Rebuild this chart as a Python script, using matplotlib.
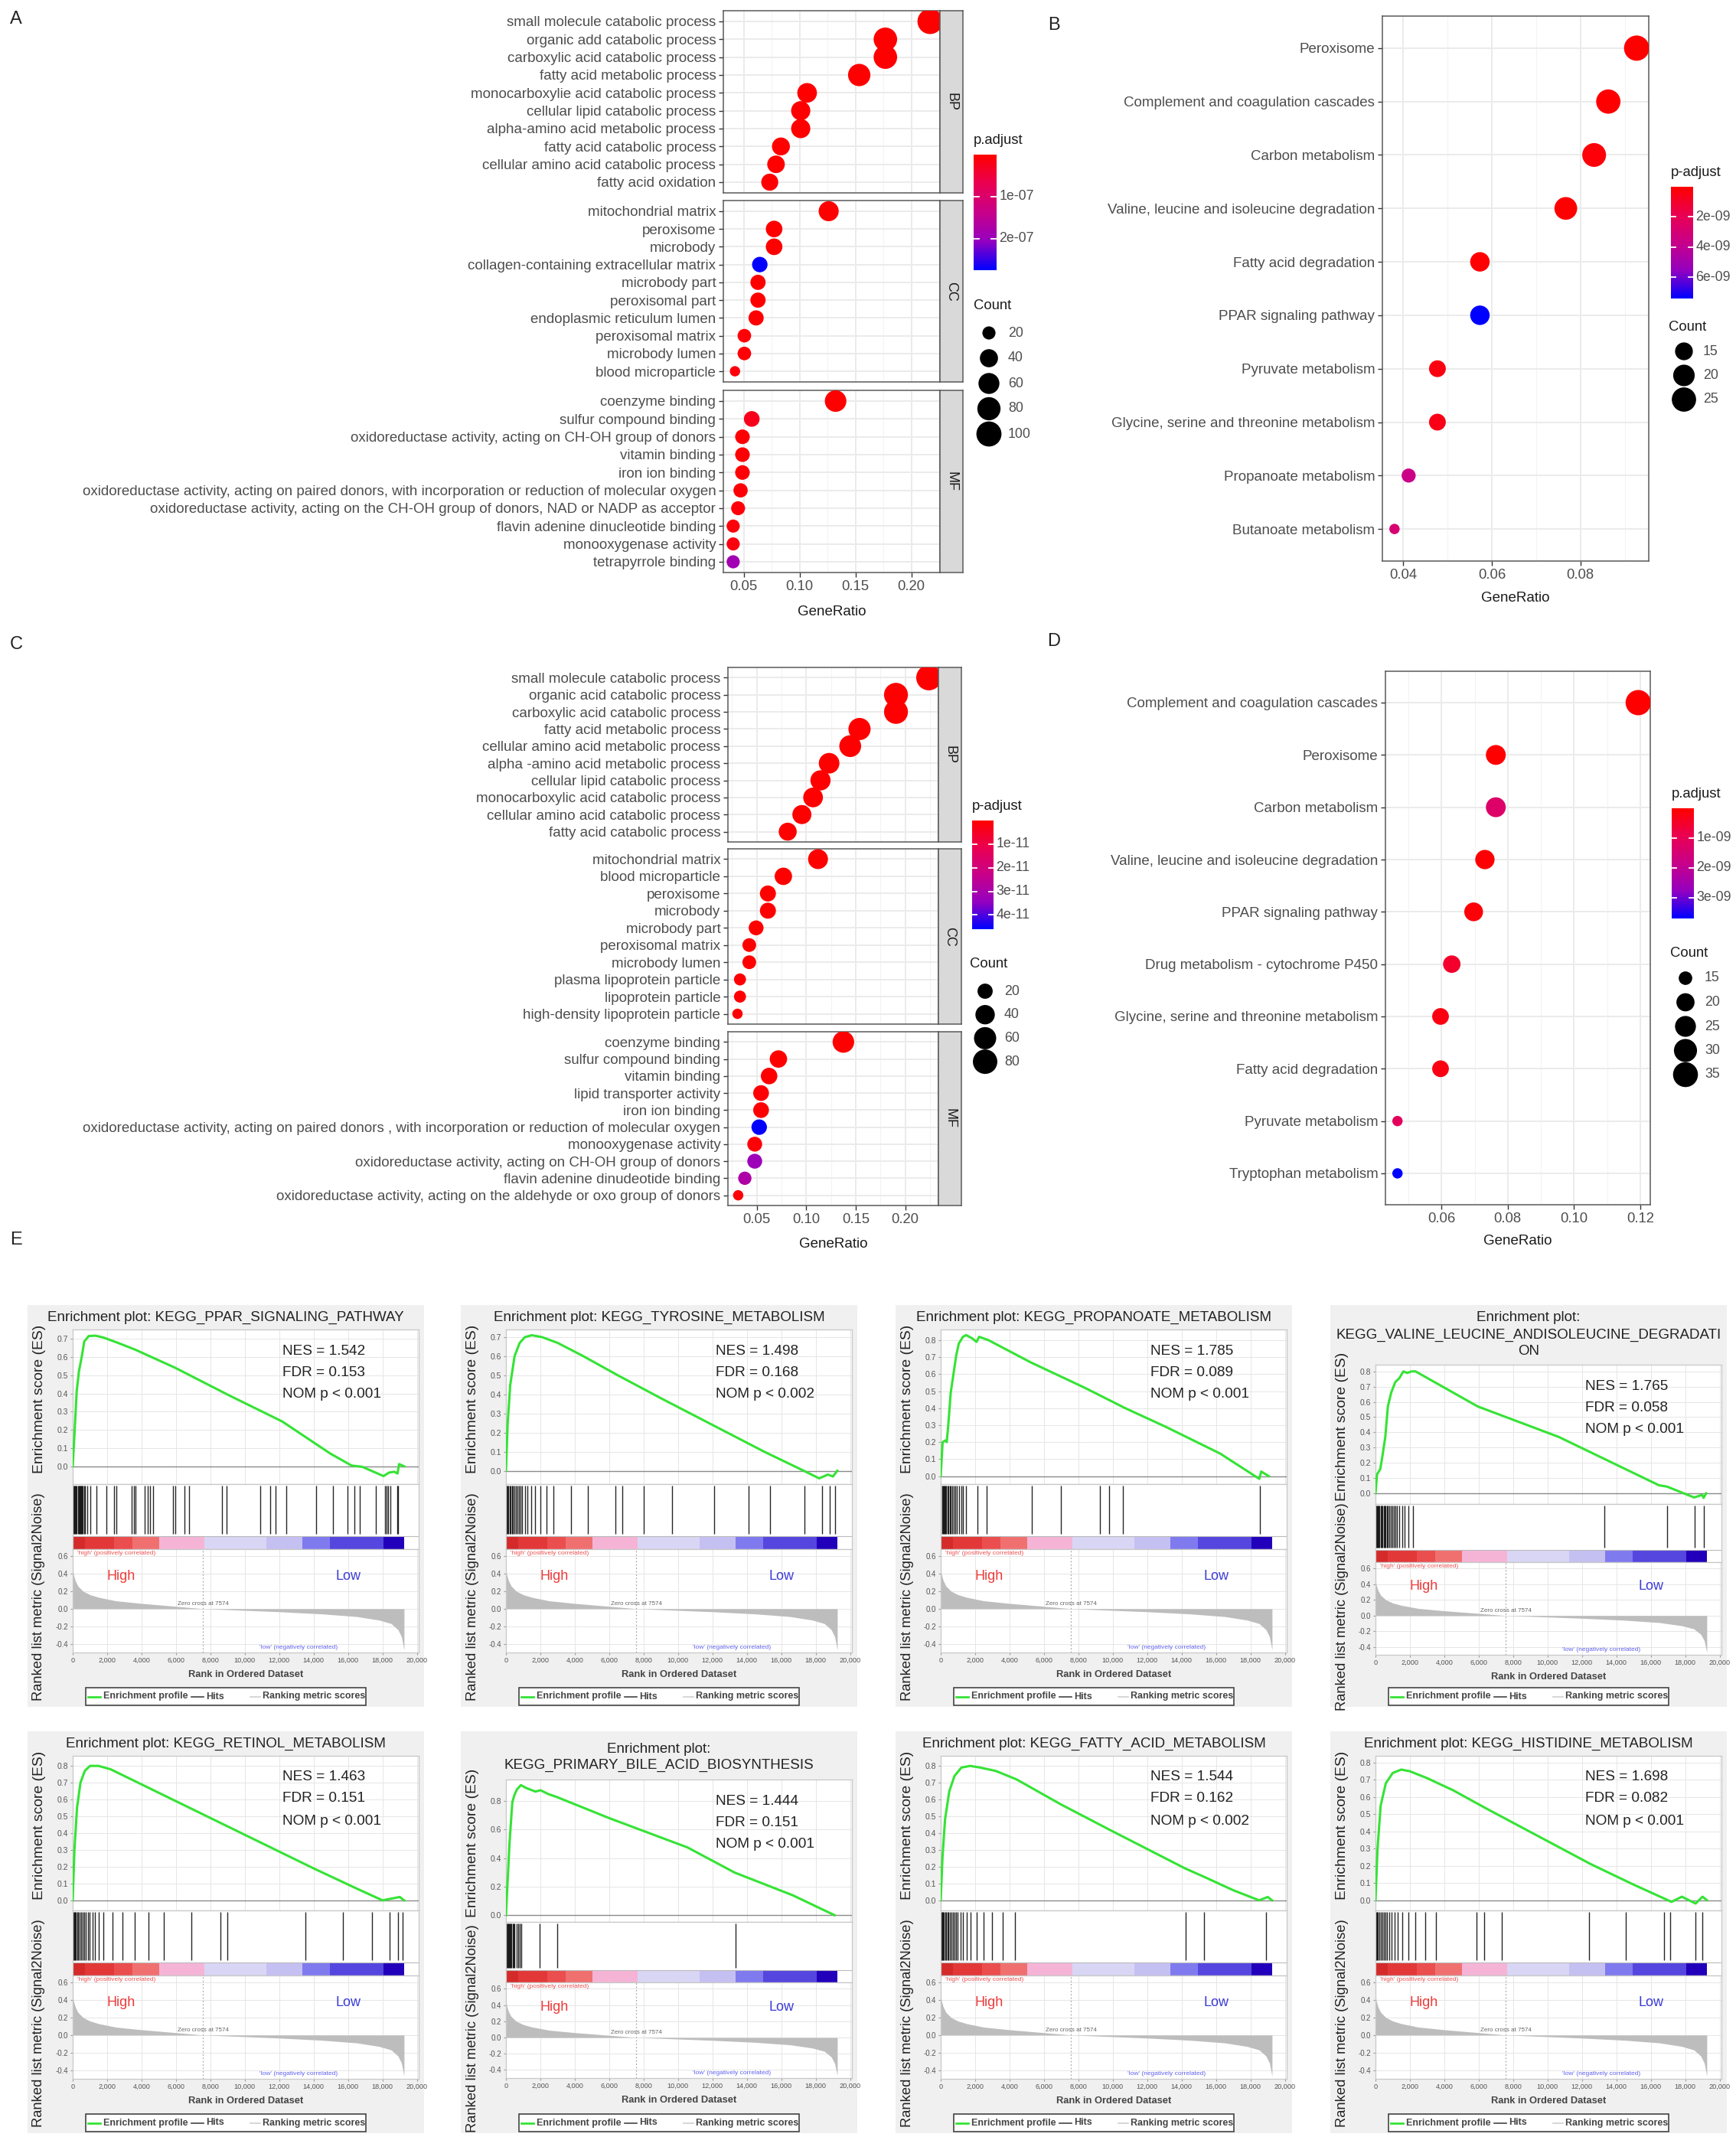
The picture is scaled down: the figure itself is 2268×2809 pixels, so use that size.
import numpy as np
import matplotlib
matplotlib.use("Agg")
import matplotlib.pyplot as plt
from matplotlib.colors import LinearSegmentedColormap
from matplotlib.patches import Rectangle
from matplotlib.ticker import MultipleLocator

plt.rcParams['font.family'] = ['Liberation Sans', 'DejaVu Sans']

# ======================= DATA =======================
# ---- Panel A (GO, faceted) ----
a_bp_terms = ["small molecule catabolic process", "organic add catabolic process",
              "carboxylic acid catabolic process", "fatty acid metabolic process",
              "monocarboxylie acid catabolic process", "cellular lipid catabolic process",
              "alpha-amino acid metabolic process", "fatty acid catabolic process",
              "cellular amino acid catabolic process", "fatty acid oxidation"]
a_bp_ratio = [0.2167, 0.1767, 0.1767, 0.1533, 0.1067, 0.1010, 0.1010, 0.0833, 0.0789, 0.0733]
a_bp_count = [102, 83, 83, 72, 50, 47, 47, 39, 37, 34]
a_bp_padj = [2e-21, 5e-16, 5e-16, 3e-17, 4e-13, 2e-12, 6e-12, 3e-11, 8e-11, 2e-10]

a_cc_terms = ["mitochondrial matrix", "peroxisome", "microbody",
              "collagen-containing extracellular matrix", "microbody part", "peroxisomal part",
              "endoplasmic reticulum lumen", "peroxisomal matrix", "microbody lumen",
              "blood microparticle"]
a_cc_ratio = [0.1260, 0.0772, 0.0772, 0.0644, 0.0628, 0.0628, 0.0611, 0.0506, 0.0506, 0.0422]
a_cc_count = [53, 32, 32, 27, 26, 26, 26, 21, 21, 17]
a_cc_padj = [1e-12, 3e-11, 3e-11, 2.75e-7, 4e-10, 4e-10, 2e-9, 5e-9, 5e-9, 8e-9]

a_mf_terms = ["coenzyme binding", "sulfur compound binding",
              "oxidoreductase activity, acting on CH-OH group of donors", "vitamin binding",
              "iron ion binding",
              "oxidoreductase activity, acting on paired donors, with incorporation or reduction of molecular oxygen",
              "oxidoreductase activity, acting on the CH-OH group of donors, NAD or NADP as acceptor",
              "flavin adenine dinucleotide binding", "monooxygenase activity", "tetrapyrrole binding"]
a_mf_ratio = [0.1322, 0.0572, 0.0489, 0.0489, 0.0489, 0.0472, 0.0450, 0.0406, 0.0406, 0.0406]
a_mf_count = [65, 28, 24, 24, 24, 23, 22, 20, 20, 20]
a_mf_padj = [1e-14, 2.2e-8, 4e-9, 4e-9, 5e-9, 6e-9, 8e-9, 1e-8, 1.2e-8, 1.9e-7]

a_facets = ["BP", "CC", "MF"]
a_xticks = [0.05, 0.10, 0.15, 0.20]
a_padj_ticks = [1e-7, 2e-7]
a_count_breaks = [20, 40, 60, 80, 100]

# ---- Panel B (KEGG) ----
b_terms = ["Peroxisome", "Complement and coagulation cascades", "Carbon metabolism",
           "Valine, leucine and isoleucine degradation", "Fatty acid degradation",
           "PPAR signaling pathway", "Pyruvate metabolism",
           "Glycine, serine and threonine metabolism", "Propanoate metabolism",
           "Butanoate metabolism"]
b_ratio = [0.0927, 0.0863, 0.0831, 0.0767, 0.0573, 0.0573, 0.0477, 0.0477, 0.0412, 0.0380]
b_count = [27, 25, 24, 22, 17, 17, 14, 14, 12, 11]
b_padj = [3e-12, 5e-11, 2e-10, 4e-11, 1e-10, 7.4e-9, 4e-10, 5e-10, 3.6e-9, 2.9e-9]
b_xticks = [0.04, 0.06, 0.08]
b_padj_ticks = [2e-9, 4e-9, 6e-9]
b_count_breaks = [15, 20, 25]

# ---- Panel C (GO, faceted) ----
c_bp_terms = ["small molecule catabolic process", "organic acid catabolic process",
              "carboxylic acid catabolic process", "fatty acid metabolic process",
              "cellular amino acid metabolic process", "alpha -amino acid metabolic process",
              "cellular lipid catabolic process", "monocarboxylic acid catabolic process",
              "cellular amino acid catabolic process", "fatty acid catabolic process"]
c_bp_ratio = [0.2238, 0.1906, 0.1906, 0.1538, 0.1444, 0.1231, 0.1144, 0.1069, 0.0956, 0.0813]
c_bp_count = [88, 75, 75, 60, 57, 48, 45, 42, 38, 32]
c_bp_padj = [1e-30, 1e-25, 1e-25, 1e-22, 1e-20, 1e-18, 1e-17, 1e-16, 1e-15, 1e-14]

c_cc_terms = ["mitochondrial matrix", "blood microparticle", "peroxisome", "microbody",
              "microbody part", "peroxisomal matrix", "microbody lumen",
              "plasma lipoprotein particle", "lipoprotein particle",
              "high-density lipoprotein particle"]
c_cc_ratio = [0.1119, 0.0769, 0.0613, 0.0613, 0.0494, 0.0425, 0.0425, 0.0331, 0.0331, 0.0306]
c_cc_count = [43, 29, 23, 23, 19, 16, 16, 13, 13, 12]
c_cc_padj = [1e-16, 1e-15, 1e-14, 1e-14, 1e-13, 2e-13, 2e-13, 5e-13, 5e-13, 8e-13]

c_mf_terms = ["coenzyme binding", "sulfur compound binding", "vitamin binding",
              "lipid transporter activity", "iron ion binding",
              "oxidoreductase activity, acting on paired donors , with incorporation or reduction of molecular oxygen",
              "monooxygenase activity",
              "oxidoreductase activity, acting on CH-OH group of donors",
              "flavin adenine dinudeotide binding",
              "oxidoreductase activity, acting on the aldehyde or oxo group of donors"]
c_mf_ratio = [0.1375, 0.0719, 0.0625, 0.0544, 0.0544, 0.0525, 0.0480, 0.0480, 0.0380, 0.0313]
c_mf_count = [55, 29, 25, 22, 22, 21, 19, 19, 15, 12]
c_mf_padj = [2e-18, 3e-13, 1e-13, 5e-13, 6e-13, 4.6e-11, 8e-13, 3.3e-11, 2.9e-11, 1e-12]

c_xticks = [0.05, 0.10, 0.15, 0.20]
c_padj_ticks = [1e-11, 2e-11, 3e-11, 4e-11]
c_count_breaks = [20, 40, 60, 80]

# ---- Panel D (KEGG) ----
d_terms = ["Complement and coagulation cascades", "Peroxisome", "Carbon metabolism",
           "Valine, leucine and isoleucine degradation", "PPAR signaling pathway",
           "Drug metabolism - cytochrome P450", "Glycine, serine and threonine metabolism",
           "Fatty acid degradation", "Pyruvate metabolism", "Tryptophan metabolism"]
d_ratio = [0.1194, 0.0764, 0.0764, 0.0731, 0.0697, 0.0631, 0.0597, 0.0597, 0.0467, 0.0467]
d_count = [36, 23, 23, 22, 21, 19, 18, 18, 14, 14]
d_padj = [1e-16, 2e-11, 1.3e-9, 5e-11, 1e-10, 5e-10, 2e-10, 2e-10, 1.1e-9, 3.7e-9]
d_xticks = [0.06, 0.08, 0.10, 0.12]
d_padj_ticks = [1e-9, 2e-9, 3e-9]
d_count_breaks = [15, 20, 25, 30, 35]

# ---- Panel E (GSEA) ----
gsea_titles = [
    ["Enrichment plot: KEGG_PPAR_SIGNALING_PATHWAY"],
    ["Enrichment plot: KEGG_TYROSINE_METABOLISM"],
    ["Enrichment plot: KEGG_PROPANOATE_METABOLISM"],
    ["Enrichment plot:", "KEGG_VALINE_LEUCINE_ANDISOLEUCINE_DEGRADATI", "ON"],
    ["Enrichment plot: KEGG_RETINOL_METABOLISM"],
    ["Enrichment plot:", "KEGG_PRIMARY_BILE_ACID_BIOSYNTHESIS"],
    ["Enrichment plot: KEGG_FATTY_ACID_METABOLISM"],
    ["Enrichment plot: KEGG_HISTIDINE_METABOLISM"],
]
gsea_nes = [1.542, 1.498, 1.785, 1.765, 1.463, 1.444, 1.544, 1.698]
gsea_fdr = [0.153, 0.168, 0.089, 0.058, 0.151, 0.151, 0.162, 0.082]
gsea_nomp = ["< 0.001", "< 0.002", "< 0.001", "< 0.001", "< 0.001", "< 0.001", "< 0.002", "< 0.001"]

es_ppar_r = [0, 110, 230, 360, 540, 670, 930, 1320, 1780, 2560, 3640, 5970, 9070, 12170, 14960,
             16200, 16820, 18060, 18370, 18680, 18870, 18960, 19250]
es_ppar_v = [0.0, 0.19, 0.41, 0.52, 0.61, 0.685, 0.715, 0.717, 0.707, 0.68, 0.64, 0.54, 0.39,
             0.246, 0.07, 0.004, -0.003, -0.054, -0.035, -0.03, -0.04, 0.012, 0.0]
es_tyr_r = [0, 100, 250, 500, 800, 1100, 1500, 2100, 3000, 4500, 6500, 9000, 12000, 15000,
            17300, 18200, 18700, 19000, 19250]
es_tyr_v = [0.0, 0.25, 0.45, 0.6, 0.67, 0.7, 0.71, 0.7, 0.67, 0.6, 0.5, 0.38, 0.24, 0.1,
            0.0, -0.04, -0.02, -0.03, 0.0]
es_prop_r = [0, 110, 270, 350, 430, 580, 740, 900, 1050, 1290, 1480, 1840, 2080, 2230, 2780,
             5220, 8370, 10720, 13080, 16230, 18510, 18620, 19060]
es_prop_v = [0.0, 0.20, 0.21, 0.20, 0.29, 0.49, 0.60, 0.71, 0.78, 0.82, 0.83, 0.81, 0.79, 0.82,
             0.80, 0.67, 0.52, 0.40, 0.29, 0.133, -0.016, 0.027, 0.0]
es_val_r = [0, 90, 280, 410, 570, 720, 910, 1150, 1380, 1620, 1850, 2090, 2330, 5940, 10650,
            16470, 16940, 18510, 18980, 19060, 19210]
es_val_v = [0.0, 0.124, 0.16, 0.25, 0.37, 0.57, 0.66, 0.73, 0.755, 0.80, 0.79, 0.80, 0.80, 0.57,
            0.37, 0.053, 0.044, -0.027, -0.01, -0.03, 0.0]
es_ret_r = [0, 100, 250, 450, 700, 1000, 1500, 2200, 3000, 5000, 8000, 11000, 14000, 16500,
            18000, 18500, 19000, 19250]
es_ret_v = [0.0, 0.3, 0.55, 0.7, 0.77, 0.8, 0.8, 0.78, 0.74, 0.64, 0.49, 0.34, 0.19, 0.07,
            0.0, 0.01, 0.02, 0.0]
es_bile_r = [0, 110, 210, 370, 490, 640, 870, 1170, 1710, 2010, 2470, 2930, 5980, 10550,
             13290, 16650, 19090]
es_bile_v = [0.0, 0.27, 0.51, 0.79, 0.84, 0.88, 0.91, 0.89, 0.865, 0.874, 0.847, 0.828, 0.68,
             0.474, 0.298, 0.14, 0.0]
es_fat_r = [0, 100, 250, 500, 800, 1200, 1700, 2300, 3200, 4400, 7000, 10000, 14200, 15300,
            17000, 18500, 19000, 19250]
es_fat_v = [0.0, 0.25, 0.48, 0.65, 0.74, 0.79, 0.8, 0.79, 0.77, 0.72, 0.57, 0.41, 0.19, 0.14,
            0.06, 0.0, 0.02, 0.0]
es_his_r = [0, 120, 300, 600, 1000, 1500, 2000, 3000, 4500, 6500, 9500, 12500, 15000, 17200,
            17800, 18600, 19000, 19250]
es_his_v = [0.0, 0.3, 0.55, 0.68, 0.74, 0.76, 0.75, 0.71, 0.64, 0.53, 0.37, 0.21, 0.09, -0.01,
            0.02, -0.02, 0.02, 0.0]

hits_ppar = [20, 60, 110, 150, 190, 240, 290, 340, 390, 440, 490, 540, 600, 650, 700, 850, 1010,
             1400, 1940, 2400, 2530, 3410, 3570, 3640, 4190, 4340, 4500, 4650, 5810, 5970, 6510,
             6740, 8680, 8920, 10900, 11470, 11780, 12400, 14150, 15120, 15970, 16360, 16670,
             17630, 18140, 18220, 18300, 18450, 18840, 18920]
hits_tyr = [30, 90, 150, 210, 280, 340, 420, 500, 580, 660, 750, 850, 950, 1100, 1250, 1450,
            1700, 2000, 2350, 2750, 3800, 4750, 6370, 6770, 8000, 9670, 12090, 14100, 15320,
            17330, 18380, 18790, 19110]
hits_prop = [20, 70, 120, 170, 220, 280, 330, 390, 450, 520, 600, 680, 760, 850, 950, 1050,
             1200, 1300, 1450, 2150, 2660, 5300, 6980, 9230, 9780, 10570, 18550]
hits_val = [30, 80, 130, 180, 230, 290, 350, 410, 470, 530, 590, 650, 720, 800, 880, 960, 1050,
            1150, 1250, 1400, 1550, 1700, 1900, 2200, 13290, 16940, 18540, 19060]
hits_ret = [30, 80, 140, 200, 260, 330, 400, 480, 560, 650, 750, 870, 1000, 1150, 1300, 1500,
            1800, 2300, 2900, 3600, 4400, 5300, 6900, 8600, 9000, 13500, 15700, 17400, 18400,
            18900, 19150]
hits_bile = [30, 80, 130, 180, 230, 280, 330, 380, 430, 480, 640, 720, 800, 870, 1940, 3000, 13320]
hits_fat = [30, 80, 130, 190, 250, 310, 380, 450, 530, 610, 700, 800, 900, 1000, 1150, 1300,
            1500, 1750, 2100, 2500, 3000, 3600, 4300, 14230, 15290, 18900]
hits_his = [30, 90, 150, 220, 300, 380, 470, 570, 680, 800, 950, 1100, 1300, 1550, 1900, 2300,
            2900, 3500, 5850, 6320, 7350, 12400, 14540, 16750, 17140, 18600, 19000]

gsea_es_r = [es_ppar_r, es_tyr_r, es_prop_r, es_val_r, es_ret_r, es_bile_r, es_fat_r, es_his_r]
gsea_es_v = [es_ppar_v, es_tyr_v, es_prop_v, es_val_v, es_ret_v, es_bile_v, es_fat_v, es_his_v]
gsea_hits = [hits_ppar, hits_tyr, hits_prop, hits_val, hits_ret, hits_bile, hits_fat, hits_his]

rank_metric_r = [0, 60, 150, 300, 600, 1000, 1500, 2500, 4000, 5500, 7574, 9500, 12000, 14500,
                 16500, 17800, 18500, 18900, 19100, 19250]
rank_metric_v = [0.45, 0.38, 0.32, 0.26, 0.2, 0.16, 0.13, 0.09, 0.06, 0.035, 0.0, -0.015, -0.035,
                 -0.06, -0.09, -0.13, -0.17, -0.24, -0.32, -0.47]
zero_cross = 7574
bar_edges = [0, 700, 2400, 3490, 5040, 7670, 11240, 13330, 14960, 18060, 19250]
bar_colors = ['#D42A2A', '#E33838', '#EB4E4E', '#F07070', '#F5B4D6', '#D8D6F4', '#C5C0F2',
              '#807AEF', '#5446DE', '#2200BB']
rank_xticks = list(range(0, 20001, 2000))
rank_yticks = [-0.4, -0.2, 0.0, 0.2, 0.4, 0.6]

# axis settings for ES plots
gsea_es_ylim = [(-0.098, 0.751), (-0.07, 0.74), (-0.047, 0.863), (-0.07, 0.844),
                (-0.06, 0.86), (-0.047, 0.949), (-0.06, 0.86), (-0.06, 0.84)]
gsea_es_tickmax = [0.7, 0.7, 0.8, 0.8, 0.8, 0.8, 0.8, 0.8]
gsea_es_tickstep = [0.1, 0.1, 0.1, 0.1, 0.1, 0.2, 0.1, 0.1]

# ======================= FIGURE =======================
W, H, DPI = 2268, 2809, 100
fig = plt.figure(figsize=(W / DPI, H / DPI), dpi=DPI)
fig.patch.set_facecolor('white')
renderer = fig.canvas.get_renderer()

TXT = '#4D4D4D'
pcmap = LinearSegmentedColormap.from_list(
    'padj', ['#FF0000', '#EA0052', '#C8008A', '#9500C0', '#0000FF'])


def ax_px(x0, y0, x1, y1, z=1):
    return fig.add_axes([x0 / W, 1 - y1 / H, (x1 - x0) / W, (y1 - y0) / H], zorder=z)


bg = ax_px(0, 0, W, H, z=-5)
bg.set_xlim(0, W); bg.set_ylim(H, 0); bg.axis('off')
ov = ax_px(0, 0, W, H, z=20)
ov.set_xlim(0, W); ov.set_ylim(H, 0); ov.axis('off')


def text_w(s, fs, **kw):
    t = fig.text(0, 0, s, fontsize=fs, **kw)
    w = t.get_window_extent(renderer).width
    t.remove()
    return w


def fit(s, target, **kw):
    return 12.0 * target / text_w(s, 12.0, **kw)


DMIN, DMAX = 13.5, 33.0


def dot_s(c, cmin, cmax):
    c = np.asarray(c, float)
    d = DMIN + (DMAX - DMIN) * np.sqrt(np.clip((c - cmin) / (cmax - cmin), 0, 1))
    return (d * 72.0 / DPI) ** 2


def style_bw(ax, tick_fs):
    ax.set_facecolor('white')
    for sp in ax.spines.values():
        sp.set_color('#5A5A5A'); sp.set_linewidth(1.1)
    ax.grid(which='major', color='#EBEBEB', lw=1.4, zorder=0)
    ax.grid(which='minor', axis='x', color='#F3F3F3', lw=0.8, zorder=0)
    ax.set_axisbelow(True)
    ax.tick_params(which='major', color='#333333', length=4, width=1.0,
                   labelcolor=TXT, labelsize=tick_fs, pad=3)
    ax.tick_params(which='minor', length=0)


def expand(vals):
    lo, hi = min(vals), max(vals)
    pad = 0.05 * (hi - lo)
    return lo - pad, hi + pad


def facet_dot(facets, strips, xticks, x0, x1, sx1, yspans, vmax, lab_fs, tick_fs):
    allr = sum([list(f[1]) for f in facets], [])
    allc = sum([list(f[2]) for f in facets], [])
    cmin, cmax = min(allc), max(allc)
    xlim = expand(allr)
    for k, ((terms, ratio, count, padj), strip, (y0, y1)) in enumerate(zip(facets, strips, yspans)):
        ax = ax_px(x0, y0, x1, y1)
        n = len(terms)
        yy = np.arange(n)[::-1]
        ax.scatter(ratio, yy, s=dot_s(count, cmin, cmax), c=padj, cmap=pcmap, vmin=0,
                   vmax=vmax, edgecolors='none', zorder=3)
        style_bw(ax, tick_fs)
        ax.set_xlim(xlim); ax.set_ylim(-0.6, n - 0.4)
        ax.set_yticks(yy); ax.set_yticklabels(terms, fontsize=lab_fs, color=TXT)
        ax.set_xticks(xticks)
        ax.xaxis.set_minor_locator(MultipleLocator(0.025))
        if k < len(facets) - 1:
            ax.tick_params(axis='x', length=0, labelbottom=False)
        else:
            ax.set_xticklabels([f"{v:.2f}" for v in xticks])
        sax = ax_px(x1, y0, sx1, y1)
        sax.set_facecolor('#D9D9D9')
        sax.set_xticks([]); sax.set_yticks([])
        for sp in sax.spines.values():
            sp.set_color('#5A5A5A'); sp.set_linewidth(1.1)
        sax.text(0.5, 0.5, strip, rotation=-90, ha='center', va='center',
                 fontsize=13, color='#1A1A1A', transform=sax.transAxes)
    return cmin, cmax


def kegg_dot(terms, ratio, count, padj, xticks, x0, y0, x1, y1, vmax, lab_fs, tick_fs, minor):
    ax = ax_px(x0, y0, x1, y1)
    n = len(terms)
    yy = np.arange(n)[::-1]
    ax.scatter(ratio, yy, s=dot_s(count, min(count), max(count)), c=padj, cmap=pcmap,
               vmin=0, vmax=vmax, edgecolors='none', zorder=3)
    style_bw(ax, tick_fs)
    ax.set_xlim(expand(ratio)); ax.set_ylim(-0.6, n - 0.4)
    ax.set_yticks(yy); ax.set_yticklabels(terms, fontsize=lab_fs, color=TXT)
    ax.set_xticks(xticks); ax.set_xticklabels([f"{v:.2f}" for v in xticks])
    ax.xaxis.set_minor_locator(MultipleLocator(minor))
    return min(count), max(count)


def p_colorbar(x0, y0, x1, y1, vmax, ticks, title, fs):
    cax = ax_px(x0, y0, x1, y1, z=5)
    grad = np.linspace(0, vmax, 300)[:, None]
    cax.imshow(grad, aspect='auto', cmap=pcmap, vmin=0, vmax=vmax, extent=[0, 1, vmax, 0])
    cax.set_xlim(0, 1); cax.set_ylim(vmax, 0)
    for t in ticks:
        cax.plot([0, 0.22], [t, t], color='white', lw=1.3)
        cax.plot([0.78, 1], [t, t], color='white', lw=1.3)
        cax.text(1.12, t, f"{t:.0e}", transform=cax.get_yaxis_transform(), va='center',
                 ha='left', fontsize=fs, color=TXT)
    cax.axis('off')
    ov.text(x0, y0 - 19, title, ha='left', va='center', fontsize=fs + 0.5, color='#1A1A1A')


def count_legend(xc, y_title, y_start, step, breaks, cmin, cmax, fs):
    ov.text(xc - 20, y_title, "Count", ha='left', va='center', fontsize=fs + 0.5, color='#1A1A1A')
    ys = [y_start + step * i for i in range(len(breaks))]
    ov.scatter([xc] * len(breaks), ys, s=dot_s(breaks, cmin, cmax), color='black',
               edgecolors='none')
    for b, y in zip(breaks, ys):
        ov.text(xc + 25, y, str(b), ha='left', va='center', fontsize=fs, color=TXT)


# ---------- Font sizes ----------
fs_A = fit(a_mf_terms[5], 832)
fs_C = fit(c_mf_terms[5], 837)
fs_B = fit(b_terms[1], 329)
fs_D = fit(d_terms[0], 329)
fs_tick = 13.3
fs_leg = 12.8

# ---------- Panel A ----------
a_vmax = max(a_bp_padj + a_cc_padj + a_mf_padj)
acmin, acmax = facet_dot(
    [(a_bp_terms, a_bp_ratio, a_bp_count, a_bp_padj),
     (a_cc_terms, a_cc_ratio, a_cc_count, a_cc_padj),
     (a_mf_terms, a_mf_ratio, a_mf_count, a_mf_padj)],
    a_facets, a_xticks, 945, 1228, 1258, [(14, 252), (262, 499), (510, 748)],
    a_vmax, fs_A, fs_tick)
ov.text((945 + 1228) / 2, 800, "GeneRatio", ha='center', va='center', fontsize=13.5, color='#1A1A1A')
p_colorbar(1272, 202, 1302, 353, a_vmax, a_padj_ticks, "p.adjust", fs_leg)
count_legend(1292, 400, 435, 33, a_count_breaks, acmin, acmax, fs_leg)

# ---------- Panel B ----------
b_vmax = max(b_padj)
bcmin, bcmax = kegg_dot(b_terms, b_ratio, b_count, b_padj, b_xticks, 1806, 21, 2154, 733,
                        b_vmax, fs_B, fs_tick, 0.01)
ov.text((1806 + 2154) / 2, 782, "GeneRatio", ha='center', va='center', fontsize=13.5, color='#1A1A1A')
p_colorbar(2183, 244, 2212, 390, b_vmax, b_padj_ticks, "p-adjust", fs_leg)
count_legend(2200, 428, 459, 31.5, b_count_breaks, bcmin, bcmax, fs_leg)

# ---------- Panel C ----------
c_vmax = max(c_bp_padj + c_cc_padj + c_mf_padj)
ccmin, ccmax = facet_dot(
    [(c_bp_terms, c_bp_ratio, c_bp_count, c_bp_padj),
     (c_cc_terms, c_cc_ratio, c_cc_count, c_cc_padj),
     (c_mf_terms, c_mf_ratio, c_mf_count, c_mf_padj)],
    a_facets, c_xticks, 951, 1226, 1256, [(872, 1100), (1109, 1338), (1348, 1575)],
    c_vmax, fs_C, fs_tick)
ov.text((951 + 1226) / 2, 1625, "GeneRatio", ha='center', va='center', fontsize=13.5, color='#1A1A1A')
p_colorbar(1270, 1072, 1298, 1214, c_vmax, c_padj_ticks, "p-adjust", fs_leg)
count_legend(1287, 1260, 1295, 30.7, c_count_breaks, ccmin, ccmax, fs_leg)

# ---------- Panel D ----------
d_vmax = max(d_padj)
dcmin, dcmax = kegg_dot(d_terms, d_ratio, d_count, d_padj, d_xticks, 1810, 877, 2156, 1574,
                        d_vmax, fs_D, fs_tick, 0.01)
ov.text((1810 + 2156) / 2, 1622, "GeneRatio", ha='center', va='center', fontsize=13.5, color='#1A1A1A')
p_colorbar(2184, 1056, 2213, 1200, d_vmax, d_padj_ticks, "p.adjust", fs_leg)
count_legend(2202, 1245, 1278, 31.5, d_count_breaks, dcmin, dcmax, fs_leg)

# ---------- Panel letters ----------
for lab, (x, y) in zip("ABCDE", [(21, 25), (1377, 33), (21, 842), (1377, 838), (21, 1620)]):
    ov.text(x, y, lab, ha='center', va='center', fontsize=17, color='#222222')

# ---------- Panel E (GSEA) ----------
GREEN = '#35E335'
GW, GH = 518, 525
XMAX = 20100
LAY1 = dict(title=[16], es=(32, 234), hits=(234, 302), cb=(302, 319), rk=(319, 454))
LAY2 = dict(title=[23, 44], es=(63, 249), hits=(249, 312), cb=(312, 328), rk=(328, 453))
LAY3 = dict(title=[17, 39, 60], es=(78, 260), hits=(260, 320), cb=(320, 336), rk=(336, 457))
gsea_lay = [LAY1, LAY1, LAY1, LAY3, LAY1, LAY2, LAY1, LAY1]
gsea_box_x = [36, 602, 1170, 1738] * 2
gsea_box_y = [1705] * 4 + [2262] * 4

fs_title = fit(gsea_titles[0][0], 467)
fs_ylab = fit("Enrichment score (ES)", 194)
fs_ylab2 = fit("Ranked list metric (Signal2Noise)", 272)
fs_gleg = fit("Ranking metric scores", 133, weight='bold')
fs_xlab = fit("Rank in Ordered Dataset", 150, weight='bold')
fs_stat = fit("NES = 1.542", 108)


def light_spines(ax, col='#C8C8C8'):
    for sp in ax.spines.values():
        sp.set_color(col); sp.set_linewidth(0.9)


for i in range(8):
    bx, by, lay = gsea_box_x[i], gsea_box_y[i], gsea_lay[i]
    bg.add_patch(Rectangle((bx, by), GW, GH, facecolor='#F0F0F0', edgecolor='none'))
    L, R = bx + 59, bx + 511
    for k, line in enumerate(gsea_titles[i]):
        ov.text(bx + GW / 2, by + lay['title'][k], line, ha='center', va='center',
                fontsize=fs_title, color='#222222')
    e0, e1 = lay['es']
    es = ax_px(L, by + e0, R, by + e1)
    es.plot(gsea_es_r[i], gsea_es_v[i], color=GREEN, lw=2.2, zorder=3)
    es.axhline(0, color='#8A8A8A', lw=1.0, zorder=2)
    es.set_xlim(0, XMAX); es.set_ylim(*gsea_es_ylim[i])
    es.set_xticks(rank_xticks); es.set_xticklabels([])
    st = gsea_es_tickstep[i]
    yt = np.round(np.arange(0, gsea_es_tickmax[i] + 1e-9, st), 2)
    es.set_yticks(yt); es.set_yticklabels([f"{v:.1f}" for v in yt])
    es.tick_params(axis='y', length=2, color='#999999', labelsize=7.5, labelcolor='#555555', pad=2)
    es.tick_params(axis='x', length=0)
    es.grid(color='#E6E6E6', lw=0.7)
    es.set_axisbelow(True)
    light_spines(es)
    ov.text(bx + 333, by + e0 + 28, f"NES = {gsea_nes[i]:.3f}", ha='left', va='center',
            fontsize=fs_stat, color='#222222')
    ov.text(bx + 333, by + e0 + 56, f"FDR = {gsea_fdr[i]:.3f}", ha='left', va='center',
            fontsize=fs_stat, color='#222222')
    ov.text(bx + 333, by + e0 + 85, f"NOM p {gsea_nomp[i]}", ha='left', va='center',
            fontsize=fs_stat, color='#222222')

    h0, h1 = lay['hits']; c0, c1 = lay['cb']
    mid = ax_px(L, by + h0, R, by + c1)
    mid.set_xlim(0, XMAX); mid.set_ylim(0, 1)
    f = (c1 - c0) / (c1 - h0)
    mid.vlines(gsea_hits[i], f + 0.04, 0.98, color='black', lw=1.0, alpha=0.85)
    for s0, s1, col in zip(bar_edges[:-1], bar_edges[1:], bar_colors):
        mid.add_patch(Rectangle((s0, 0), s1 - s0, f, facecolor=col, edgecolor='none'))
    mid.axhline(f, color='#BBBBBB', lw=0.8)
    mid.set_xticks([]); mid.set_yticks([])
    light_spines(mid)

    r1 = lay['rk'][1]
    rk = ax_px(L, by + c1, R, by + r1)
    rk.fill_between(rank_metric_r, rank_metric_v, 0, color='#BDBDBD', lw=0, zorder=2)
    rk.set_xlim(0, XMAX); rk.set_ylim(-0.5, 0.68)
    rk.set_yticks(rank_yticks); rk.set_yticklabels([f"{v:.1f}" for v in rank_yticks])
    rk.set_xticks(rank_xticks); rk.set_xticklabels([f"{v:,}" for v in rank_xticks])
    rk.tick_params(length=2, color='#999999', labelsize=7.0, labelcolor='#555555', pad=2)
    rk.tick_params(axis='x', labelsize=6.6)
    rk.grid(color='#E6E6E6', lw=0.7)
    rk.set_axisbelow(True)
    light_spines(rk)
    rk.axvline(zero_cross, color='#AAAAAA', ls=(0, (1.5, 2)), lw=0.9, zorder=3)
    rk.text(zero_cross, 0.025, f"Zero cross at {zero_cross}", ha='center', va='bottom',
            fontsize=5.8, color='#666666', zorder=4)
    rk.text(250, 0.66, "'high' (positively correlated)", ha='left', va='top', fontsize=6.0,
            color='#F05050', zorder=4)
    rk.text(13100, -0.44, "'low' (negatively correlated)", ha='center', va='center',
            fontsize=6.0, color='#6060F0', zorder=4)
    rk.text(2800, 0.37, "High", ha='center', va='center', fontsize=13, color='#EE3A3A', zorder=4)
    rk.text(16000, 0.37, "Low", ha='center', va='center', fontsize=13, color='#3A3AD8', zorder=4)

    ov.text((L + R) / 2, by + r1 + 29, "Rank in Ordered Dataset", ha='center', va='center',
            fontsize=fs_xlab, weight='bold', color='#444444')
    ov.text(bx + 16, by + (e0 + e1) / 2 - 10, "Enrichment score (ES)", rotation=90,
            ha='center', va='center', fontsize=fs_ylab, color='#222222')
    ov.text(bx + 15, by + (h0 + 528) / 2, "Ranked list metric (Signal2Noise)", rotation=90,
            ha='center', va='center', fontsize=fs_ylab2, color='#222222')

    # legend box
    ly0, ly1 = by + 500, by + 523
    ym = (ly0 + ly1) / 2
    ov.add_patch(Rectangle((bx + 76, ly0), 366, ly1 - ly0, facecolor='white',
                           edgecolor='#444444', lw=1.2))
    ov.plot([bx + 79, bx + 95], [ym, ym], color=GREEN, lw=2)
    ov.text(bx + 99, ym, "Enrichment profile", ha='left', va='center', fontsize=fs_gleg,
            weight='bold', color='#444444')
    ov.plot([bx + 214, bx + 230], [ym, ym], color='#444444', lw=1.2)
    ov.text(bx + 233, ym, "Hits", ha='left', va='center', fontsize=fs_gleg, weight='bold',
            color='#444444')
    ov.plot([bx + 291, bx + 304], [ym, ym], color='#D0D0D0', lw=1.2)
    ov.text(bx + 307, ym, "Ranking metric scores", ha='left', va='center', fontsize=fs_gleg,
            weight='bold', color='#444444')

fig.savefig("out.png", dpi=DPI)
